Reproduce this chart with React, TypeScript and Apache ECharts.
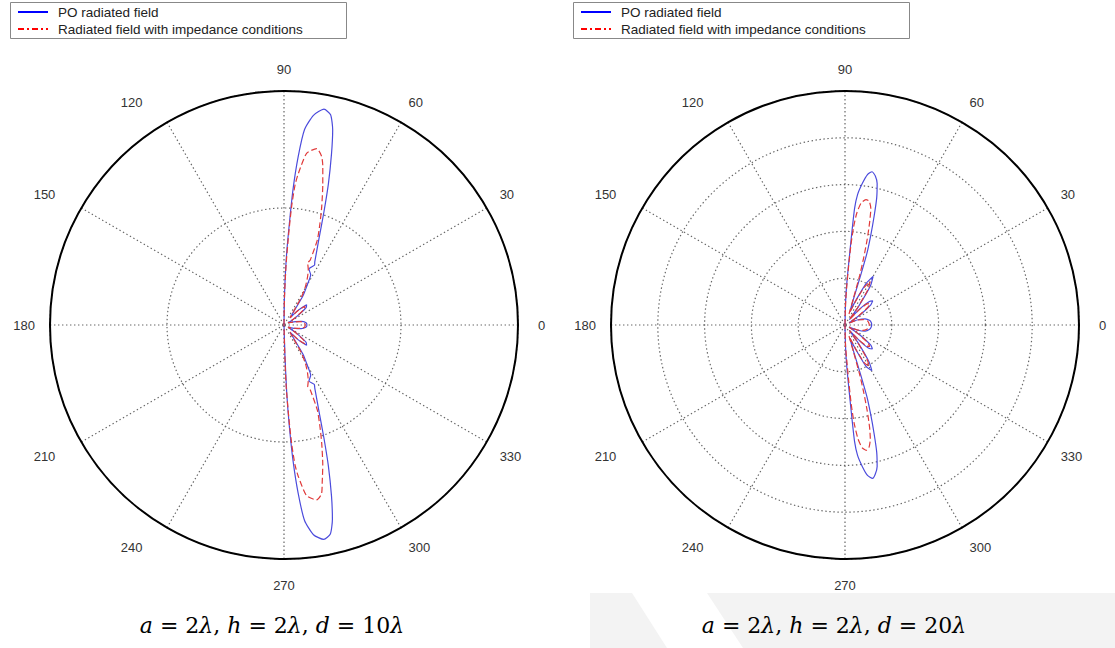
import React, { useEffect, useRef } from "react";
import * as echarts from "echarts";

// ---------- data: [angle (deg), normalised radius] ----------
const angleTicks = [0, 30, 60, 90, 120, 150, 180, 210, 240, 270, 300, 330];
const seriesNames = ["PO radiated field", "Radiated field with impedance conditions"];
const captions = ["{i|a} = 2{i|λ}, {i|h} = 2{i|λ}, {i|d} = 10{i|λ}", "{i|a} = 2{i|λ}, {i|h} = 2{i|λ}, {i|d} = 20{i|λ}"];
const ringStep = [0.5, 0.2];

// d = 10λ, PO radiated field
const poD10: [number, number][] = [
  [90, 0], [89, 0.13], [88, 0.29], [87, 0.43], [86.2, 0.58], [85.2, 0.72], [84, 0.84], [82, 0.905],
  [79.5, 0.938], [77.5, 0.92], [76, 0.86], [74.5, 0.76], [72.5, 0.63], [70.5, 0.51], [68, 0.4],
  [64, 0.3], [63, 0.288], [66, 0.262], [62, 0.243], [60, 0.2], [57, 0.15], [53, 0.06], [50, 0.04],
  [46, 0.09], [42, 0.13], [38, 0.12], [33, 0.06], [28, 0.02], [22, 0.03], [17, 0.05], [12, 0.075],
  [6, 0.095], [0, 0.098],
  [354, 0.094], [348, 0.075], [343, 0.05], [338, 0.03], [332, 0.02], [327, 0.06], [322, 0.12],
  [318, 0.13], [314, 0.09], [310, 0.04], [307, 0.06], [303, 0.15], [300, 0.2], [298, 0.243],
  [294, 0.262], [297, 0.285], [296, 0.3], [292, 0.4], [289.5, 0.51], [287.5, 0.63], [285.5, 0.76],
  [284, 0.855], [282.5, 0.915], [280.5, 0.932], [278, 0.905], [276, 0.84], [274.8, 0.72],
  [273.8, 0.58], [273, 0.43], [272.3, 0.29], [271.8, 0.13], [270, 0],
];

// d = 10λ, impedance conditions
const impD10: [number, number][] = [
  [90, 0], [89, 0.12], [88, 0.26], [87, 0.4], [86.3, 0.51], [85.5, 0.6], [84.6, 0.65], [82.5, 0.74],
  [79.5, 0.767], [77.5, 0.74], [76.3, 0.7], [74.5, 0.62], [72.3, 0.53], [70.5, 0.46], [68.6, 0.39],
  [68, 0.3], [69, 0.283], [66.5, 0.26], [64, 0.23], [61, 0.19], [58, 0.14], [54, 0.06], [50, 0.04],
  [46, 0.085], [42, 0.12], [38, 0.11], [33, 0.055], [28, 0.02], [22, 0.03], [17, 0.045], [12, 0.07],
  [6, 0.088], [0, 0.09],
  [354, 0.088], [348, 0.07], [343, 0.045], [338, 0.03], [332, 0.02], [327, 0.055], [322, 0.11],
  [318, 0.12], [314, 0.085], [310, 0.04], [306, 0.06], [302, 0.14], [299, 0.19], [296, 0.23],
  [293.5, 0.26], [291, 0.283], [292, 0.3], [291.4, 0.39], [289.5, 0.46], [287.7, 0.53],
  [285.5, 0.62], [283.7, 0.69], [282.5, 0.74], [280.5, 0.76], [277.5, 0.735], [275.4, 0.65],
  [274.5, 0.6], [273.7, 0.51], [273, 0.4], [272, 0.26], [271.5, 0.12], [270, 0],
];

// d = 20λ, PO radiated field
const poD20: [number, number][] = [
  [90, 0], [88.5, 0.1], [87.5, 0.18], [86.7, 0.25], [85.8, 0.39], [85.3, 0.5], [84.5, 0.56], [83, 0.61],
  [81.5, 0.65], [80, 0.665], [78.5, 0.65], [77.2, 0.62], [76, 0.56], [75, 0.48], [74, 0.4], [73, 0.32],
  [72.5, 0.22], [72, 0.12], [70, 0.06], [66, 0.12], [63, 0.2], [60, 0.24], [57, 0.2], [54, 0.1],
  [51, 0.03], [47, 0.1], [44, 0.145], [41, 0.157], [38, 0.14], [34, 0.08], [30, 0.03], [26, 0.02],
  [22, 0.06], [17, 0.09], [10, 0.108], [5, 0.113], [0, 0.114],
  [355, 0.112], [350, 0.107], [343, 0.09], [338, 0.06], [334, 0.02], [330, 0.03], [326, 0.08],
  [322, 0.14], [319, 0.155], [316, 0.145], [313, 0.1], [309, 0.03], [306, 0.1], [303, 0.19],
  [300.5, 0.226], [297, 0.2], [294, 0.12], [290, 0.06], [288, 0.12], [287.5, 0.22], [287, 0.32],
  [286, 0.4], [285, 0.48], [284, 0.56], [282.8, 0.62], [281.5, 0.65], [280.2, 0.666], [278.5, 0.65],
  [277, 0.61], [275.5, 0.56], [274.7, 0.5], [274.2, 0.39], [273.3, 0.25], [272.5, 0.18],
  [271.5, 0.1], [270, 0],
];

// d = 20λ, impedance conditions
const impD20: [number, number][] = [
  [90, 0], [88.5, 0.09], [87.5, 0.16], [86.7, 0.23], [85.8, 0.34], [85, 0.42], [84, 0.48], [82.5, 0.525],
  [80.5, 0.543], [79, 0.54], [77.5, 0.51], [76.5, 0.45], [75.5, 0.38], [74.5, 0.3], [73.5, 0.22],
  [72.5, 0.12], [70, 0.05], [66, 0.11], [63, 0.18], [60, 0.215], [57, 0.18], [54, 0.09], [51, 0.03],
  [47, 0.09], [44, 0.13], [41, 0.14], [38, 0.125], [34, 0.07], [30, 0.03], [26, 0.02], [22, 0.055],
  [17, 0.08], [10, 0.098], [5, 0.102], [0, 0.104],
  [355, 0.102], [350, 0.097], [343, 0.08], [338, 0.055], [334, 0.02], [330, 0.03], [326, 0.07],
  [322, 0.125], [319, 0.14], [316, 0.13], [313, 0.09], [309, 0.03], [306, 0.09], [303, 0.17],
  [300.5, 0.205], [297, 0.18], [294, 0.11], [290, 0.05], [287.5, 0.12], [286.5, 0.22], [285.5, 0.3],
  [284.5, 0.38], [283.5, 0.45], [282.5, 0.5], [281, 0.535], [279.6, 0.543], [278, 0.53],
  [276.5, 0.49], [275.3, 0.42], [274.5, 0.34], [273.7, 0.23], [273, 0.16], [271.5, 0.09], [270, 0],
];

const BLUE = "#4b4bdc";
const RED = "#e03a3a";
const centers = [[284, 325], [845, 325]];
const RADIUS = 234;
const LABEL_FONT = "Liberation Sans, Arial, sans-serif";

export default function App() {
  const ref = useRef<HTMLDivElement>(null);
  useEffect(() => {
    if (!ref.current) return;
    const chart = echarts.init(ref.current, undefined, { renderer: "svg" });
    const toData = (arr: [number, number][]) => arr.map(([a, r]) => [r, a]);
    const polar = centers.map((c) => ({ center: c, radius: RADIUS }));
    const labelBase = { fontSize: 13, color: "#333", fontFamily: LABEL_FONT };
    const angleAxis = centers.map((_, i) => ({
      polarIndex: i,
      type: "value",
      min: 0,
      max: 360,
      interval: 30,
      startAngle: 0,
      clockwise: false,
      axisLine: { show: true, lineStyle: { color: "#000", width: 2 } },
      axisTick: { show: false },
      axisLabel: {
        show: true,
        margin: 15,
        ...labelBase,
        formatter: (v: number) => {
          if (!angleTicks.includes(v)) return "";
          if (v === 120 || v === 240) return `{far|${v}}`;
          if (v === 150 || v === 210) return `{mid|${v}}`;
          if (v === 0) return `{east|${v}}`;
          if (v === 270) return `{south|${v}}`;
          return `{n|${v}}`;
        },
        rich: {
          far: { ...labelBase, padding: [0, 17, 0, 0] },
          mid: { ...labelBase, padding: [0, 13, 0, 0] },
          east: { ...labelBase, padding: [0, 0, 0, 5] },
          south: { ...labelBase, padding: [5, 0, 0, 0] },
          n: { ...labelBase },
        },
      },
      splitLine: { show: true, lineStyle: { color: "#666", width: 1.2, type: [1.4, 2.6] } },
      z: 1,
    }));
    const radiusAxis = centers.map((_, i) => ({
      polarIndex: i,
      type: "value",
      min: 0,
      max: 1,
      interval: ringStep[i],
      axisLine: { show: false },
      axisTick: { show: false },
      axisLabel: { show: false },
      splitLine: { show: true, lineStyle: { color: "#666", width: 1.2, type: [1.4, 2.6] } },
    }));
    const mk = (name: string, idx: number, data: [number, number][], color: string, dashed: boolean) => ({
      name,
      type: "line",
      coordinateSystem: "polar",
      polarIndex: idx,
      data: toData(data),
      showSymbol: false,
      symbol: "none",
      smooth: 0.2,
      lineStyle: { color, width: 1.2, type: dashed ? [6, 3] : "solid" },
      z: dashed ? 4 : 3,
    });
    const series = [
      mk(seriesNames[0], 0, poD10, BLUE, false),
      mk(seriesNames[1], 0, impD10, RED, true),
      mk(seriesNames[0], 1, poD20, BLUE, false),
      mk(seriesNames[1], 1, impD20, RED, true),
    ];
    const graphic: any[] = [
      // faint page watermark behind the captions
      { type: "polygon", shape: { points: [[590, 593], [632, 593], [667, 648], [590, 648]] }, style: { fill: "#f3f3f3" }, z: -1, silent: true },
      { type: "polygon", shape: { points: [[707, 593], [1115, 593], [1115, 648], [743, 648]] }, style: { fill: "#f3f3f3" }, z: -1, silent: true },
    ];
    const legendBoxes = [10, 573];
    legendBoxes.forEach((x0) => {
      graphic.push(
        { type: "rect", shape: { x: x0 + 0.5, y: 2.5, width: 336, height: 36 }, style: { fill: "#fff", stroke: "#888", lineWidth: 1 }, z: 10 },
        { type: "line", shape: { x1: x0 + 8, y1: 12, x2: x0 + 38, y2: 12 }, style: { stroke: "#0000ff", lineWidth: 2 }, z: 11 },
        { type: "line", shape: { x1: x0 + 8, y1: 29, x2: x0 + 38, y2: 29 }, style: { stroke: "#ff0000", lineWidth: 2, lineDash: [6, 3, 2, 3] }, z: 11 },
        { type: "text", x: x0 + 48, y: 12, style: { text: seriesNames[0], fontSize: 13.5, fontFamily: LABEL_FONT, fill: "#222", verticalAlign: "middle" }, z: 11 },
        { type: "text", x: x0 + 48, y: 29, style: { text: seriesNames[1], fontSize: 13.5, fontFamily: LABEL_FONT, fill: "#222", verticalAlign: "middle" }, z: 11 }
      );
    });
    const capX = [272, 834];
    capX.forEach((cx, i) => {
      graphic.push({
        type: "text",
        x: cx,
        y: 625,
        style: {
          text: captions[i],
          align: "center",
          verticalAlign: "middle",
          fontSize: 22,
          fontFamily: "DejaVu Serif, Liberation Serif, serif",
          fill: "#000",
          rich: { i: { fontStyle: "italic", fontSize: 22, fontFamily: "DejaVu Serif, Liberation Serif, serif" } },
        },
        z: 11,
      });
    });
    chart.setOption({
      animation: false,
      backgroundColor: "#fff",
      polar,
      angleAxis,
      radiusAxis,
      series,
      graphic,
    });
    return () => chart.dispose();
  }, []);
  return <div ref={ref} style={{ position: "absolute", left: 0, top: 0, width: 1115, height: 648 }} />;
}
